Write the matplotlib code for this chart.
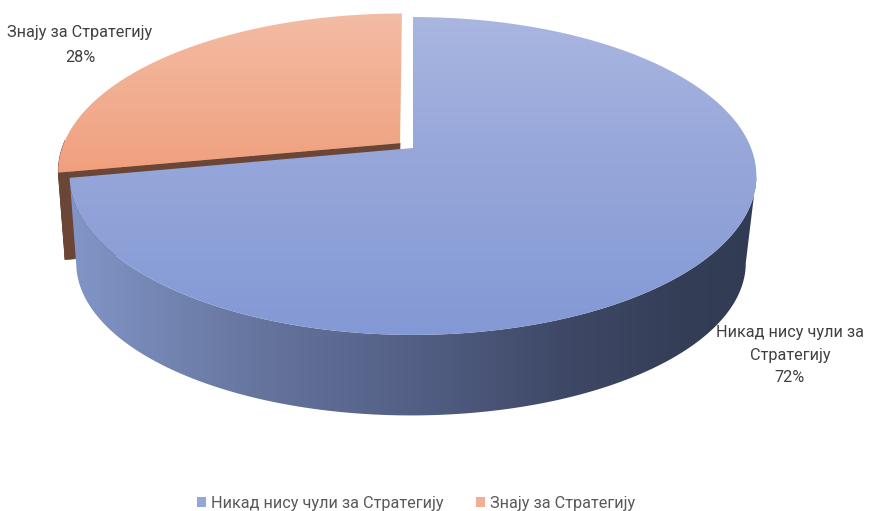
import numpy as np
import matplotlib
matplotlib.use('Agg')
import matplotlib.pyplot as plt
from matplotlib.patches import Polygon, Patch
from matplotlib.colors import LinearSegmentedColormap

# ---------------- data ----------------
categories = ['Никад нису чули за Стратегију', 'Знају за Стратегију']
values = [72, 28]
label_blue = ['Никад нису чули за', 'Стратегију', '72%']
label_orange = ['Знају за Стратегију', '28%']

plt.rcParams['font.family'] = ['Roboto', 'DejaVu Sans']

W, H = 870, 511
fig = plt.figure(figsize=(W / 100, H / 100), dpi=100)
ax = fig.add_axes([0, 0, 1, 1])
ax.set_xlim(0, W)
ax.set_ylim(H, 0)
ax.axis('off')

# ---------------- 3D pie geometry (pixel space) ----------------
CX, CY = 413, 148
A, B, P = 338, 154, 0.176
CXB, KX, KY, DZ = 411, 0.975, 0.96, 88


def proj(theta_deg, r=1.0, ex=0.0, ey=0.0, bottom=False):
    t = np.radians(theta_deg)
    u = r * np.cos(t) + ex
    v = r * np.sin(t) + ey
    w = 1 + P * v
    if bottom:
        return np.column_stack([CXB + KX * A * u / w, CY + DZ - KY * B * v / w])
    return np.column_stack([CX + A * u / w, CY - B * v / w])


total = sum(values)
start = 90.0
a_blue_end = start - 360.0 * values[0] / total      # clockwise
a_orange_end = a_blue_end - 360.0 * values[1] / total
mid_orange = (a_blue_end + a_orange_end) / 2
E = 0.05
ex, ey = E * np.cos(np.radians(mid_orange)), E * np.sin(np.radians(mid_orange))
# silhouette angle (rightmost point of the projected rim)
a_sil = -np.degrees(np.arcsin(P))


def grad_fill(path_pts, stops, horizontal, z):
    poly = Polygon(path_pts, closed=True, facecolor='none', edgecolor='none', zorder=z)
    ax.add_patch(poly)
    pos = [s[0] for s in stops]
    lo, hi = pos[0], pos[-1]
    cmap = LinearSegmentedColormap.from_list(
        'g', [((p - lo) / (hi - lo), c) for p, c in stops])
    if horizontal:
        xs = np.clip((np.arange(W) - lo) / (hi - lo), 0, 1)
        img = np.tile(xs, (H, 1))
    else:
        ys = np.clip((np.arange(H) - lo) / (hi - lo), 0, 1)
        img = np.tile(ys[:, None], (1, W))
    im = ax.imshow(img, cmap=cmap, vmin=0, vmax=1, extent=[0, W, H, 0],
                   aspect='auto', zorder=z, interpolation='bilinear')
    im.set_clip_path(poly)
    return poly


brown = '#6b4535'

# orange radial face (visible because exploded)
vt = proj(0, r=0, ex=ex, ey=ey)[0]
vb = proj(0, r=0, ex=ex, ey=ey, bottom=True)[0]
rt = proj(a_blue_end, ex=ex, ey=ey)[0]
rb = proj(a_blue_end, ex=ex, ey=ey, bottom=True)[0]
ax.add_patch(Polygon([vt, rt, rb, vb], closed=True, facecolor=brown,
                     edgecolor=brown, lw=0.5, zorder=1))
# orange outer side (small visible part)
th = np.linspace(a_blue_end - 12, a_blue_end, 20)
side_o = np.vstack([proj(th, ex=ex, ey=ey), proj(th[::-1], ex=ex, ey=ey, bottom=True)])
ax.add_patch(Polygon(side_o, closed=True, facecolor=brown, edgecolor=brown,
                     lw=0.5, zorder=1))

# orange top
th = np.linspace(a_blue_end, a_orange_end, 200)
top_o = np.vstack([[vt], proj(th, ex=ex, ey=ey)])
grad_fill(top_o, [(13, '#f3bca4'), (175, '#f09f7d')], False, 2)

# blue side (front half up to the right silhouette)
th = np.linspace(a_blue_end, a_sil, 300)
side_b = np.vstack([proj(th), proj(th[::-1], bottom=True)])
grad_fill(side_b, [(70, '#8195c7'), (250, '#67769f'), (420, '#525e84'),
                   (560, '#3f4967'), (680, '#353e57'), (760, '#323b54')], True, 3)

# blue top
th = np.linspace(start, a_blue_end, 400)
top_b = np.vstack([[[CX, CY]], proj(th)])
grad_fill(top_b, [(17, '#a9b6e0'), (150, '#97a7da'), (335, '#8399d5')], False, 4)

# ---------------- data labels ----------------
lab_col = '#404040'
fs = 11.7
for i, t in enumerate(label_orange):
    ax.text(80, 33 + 24 * i, t, ha='center', va='center', fontsize=fs,
            color=lab_col, zorder=6)
for i, t in enumerate(label_blue):
    ax.text(790, 333 + 22.5 * i, t, ha='center', va='center', fontsize=fs,
            color=lab_col, zorder=6)

# ---------------- legend ----------------
handles = [Patch(facecolor='#93a5da', edgecolor='none'),
           Patch(facecolor='#f2ae92', edgecolor='none')]
leg = fig.legend(handles, categories, loc='center', bbox_to_anchor=(416 / W, 1 - 503 / H),
                 ncol=2, frameon=False, fontsize=fs, handlelength=0.55,
                 handleheight=0.55, handletextpad=0.3, columnspacing=2.0,
                 borderpad=0, borderaxespad=0)
for txt in leg.get_texts():
    txt.set_color('#595959')

fig.savefig('out.png', dpi=100, facecolor='white')
